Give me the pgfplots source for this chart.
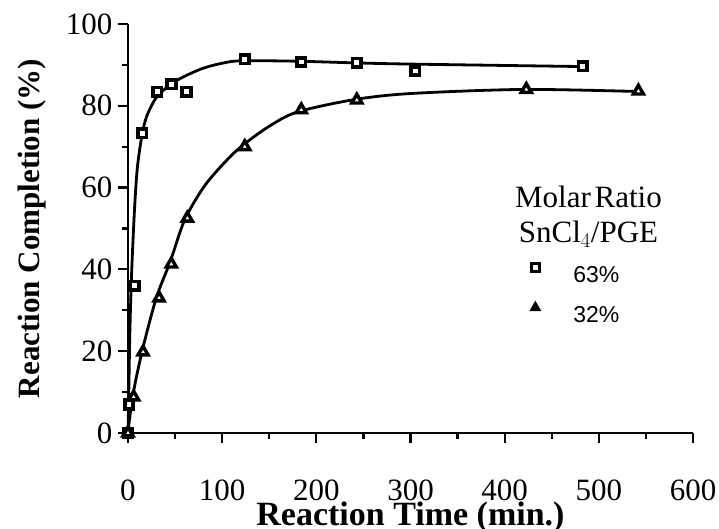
\documentclass[border=0pt]{standalone}
\usepackage{pgfplots}
\pgfplotsset{compat=1.18}
\usepackage{fontspec}
\setmainfont{Liberation Serif}
\setsansfont{Liberation Sans}
\begin{document}
\begin{tikzpicture}
\begin{axis}[
  scale only axis,
  width=565pt, height=409pt,
  xmin=0, xmax=600, ymin=0, ymax=100,
  axis x line*=bottom, axis y line*=left,
  axis line style={line width=2.6pt},
  xtick={0,100,...,600}, ytick={0,20,...,100},
  minor xtick={50,150,...,550}, minor ytick={10,30,...,90},
  xtick pos=bottom, ytick pos=left,
  xtick align=outside, ytick align=outside,
  major tick length=10pt, minor tick length=6pt,
  tick style={draw=black, line width=2.2pt},
  tick label style={font=\fontsize{31}{33}\selectfont},
  /pgf/number format/assume math mode=true,
  xticklabel style={anchor=north, yshift=-36pt, inner ysep=1pt},
  yticklabel style={anchor=east, xshift=-2pt},
  xlabel={\textbf{Reaction Time (min.)}},
  ylabel={\textbf{Reaction Completion (\%)}},
  xlabel style={font=\fontsize{34}{36}\selectfont, yshift=1pt, inner ysep=1pt},
  ylabel style={font=\fontsize{31}{33}\selectfont, yshift=13pt},
  clip=false,
  legend style={draw=none, fill=none, at={(axis cs:426,42)}, anchor=north west,
    font=\sffamily\fontsize{23}{25}\selectfont, row sep=15.5pt,
    legend cell align=left, inner sep=0pt},
  legend image code/.code={\path[draw=none,fill=none] (-6pt,2pt) rectangle (36pt,14pt);
    \draw[#1, mark size=3.8pt, line width=3.2pt] plot coordinates {(0pt,8pt)};},
]
\coordinate (ll) at (rel axis cs:0,0);
\coordinate (ur) at (rel axis cs:1,1);
% fitted curves
\addplot[line width=2.8pt, smooth, forget plot] coordinates {
(0,0) (1,12) (2,25) (4,40) (7,55) (10,65) (15,73) (20,77.5) (30,82) (45,85.2) (60,87.2) (80,89.2) (100,90.4) (120,91) (180,90.9) (240,90.5) (300,90.2) (480,89.6)};
\addplot[line width=2.8pt, smooth, forget plot] coordinates {
(0,0) (5,9) (15,20) (30,33) (45,42) (60,52) (80,60) (100,65.5) (120,70) (150,75) (180,78.5) (240,81.5) (300,83) (420,84) (540,83.5)};
% data markers
\addplot[only marks, mark=square*, mark size=4.3pt, line width=3.8pt, fill=white,
  mark options={solid}] coordinates {
(0,0) (1,7) (7,36) (15,73.3) (31,83.4) (46,85.3) (62,83.4) (124,91.4) (184,90.7) (243,90.5) (305,88.5) (483,89.7)};
\addlegendentry{63\%}
\addplot[only marks, mark=triangle*, mark size=5.8pt, line width=3.4pt, fill=white,
  mark options={solid}] coordinates {
(0,0) (6,8.8) (16,19.8) (33,33) (46,41.3) (63,52.5) (124,70) (184,79) (243,81.4) (423,84) (542,83.6)};
\addlegendentry{32\%}
\node[font=\fontsize{31}{35}\selectfont, align=center, inner sep=0pt, anchor=base] at (axis cs:489,46.5)
  {Molar\hspace{0.12em}Ratio\\SnCl$_4$/PGE};
\end{axis}
\pgfresetboundingbox
\path[use as bounding box] ([shift={(-128pt,-96pt)}]ll) rectangle ([shift={(26pt,24pt)}]ur);
\end{tikzpicture}
\end{document}
